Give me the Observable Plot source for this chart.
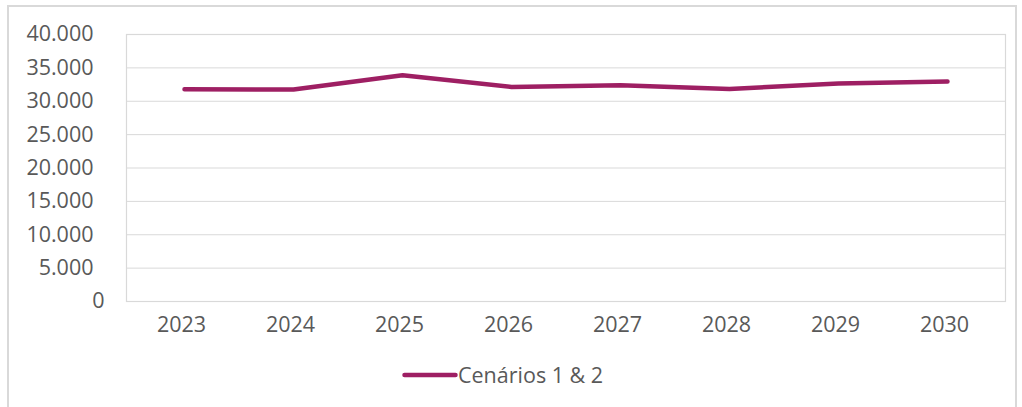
<!DOCTYPE html>
<html>
<head>
<meta charset="utf-8">
<script src="https://cdn.jsdelivr.net/npm/d3@7"></script>
<script src="https://cdn.jsdelivr.net/npm/@observablehq/plot@0.6"></script>
<style>
  html, body { margin: 0; padding: 0; background: #fff; }
  body { width: 1022px; height: 407px; position: relative; overflow: hidden; font-family: "Open Sans", sans-serif; }
  #frame { position: absolute; left: 7px; top: 5px; width: 1010px; height: 430px; border: 2px solid #d9d9d9; box-sizing: border-box; }
  #chart { position: absolute; left: 0; top: 0; }
  #legend { position: absolute; left: 402px; top: 360px; display: flex; align-items: center; color: #595959; font-size: 21.5px; }
  #legend svg { display: block; margin-right: 0px; }
</style>
</head>
<body>
<div id="frame"></div>
<div id="chart"></div>
<div id="legend"></div>
<script>
const years = ["2023", "2024", "2025", "2026", "2027", "2028", "2029", "2030"];
const values = [31800, 31750, 33900, 32150, 32400, 31850, 32650, 32950];
const seriesName = "Cenários 1 & 2";
const yTicks = [5000, 10000, 15000, 20000, 25000, 30000, 35000, 40000];
const zeroTick = [0];
const lineColor = "#9e1f63";

const data = years.map((y, i) => ({year: y, value: values[i]}));
const fmt = d => d3.format(",")(d).replace(/,/g, ".");

const chart = Plot.plot({
  width: 1022,
  height: 345,
  marginLeft: 126,
  marginRight: 17,
  marginTop: 34,
  marginBottom: 44,
  style: {fontFamily: "Open Sans, sans-serif", fontSize: "21.5px", color: "#595959", background: "transparent"},
  x: {type: "point", domain: years, padding: 0.5},
  y: {domain: [0, 40000]},
  marks: [
    Plot.gridY([...zeroTick, ...yTicks], {stroke: "#d9d9d9", strokeOpacity: 1, strokeWidth: 1}),
    Plot.frame({stroke: "#d9d9d9", strokeWidth: 1.2}),
    Plot.axisY(yTicks, {tickSize: 0, tickPadding: 33, tickFormat: fmt, label: null, fill: "#595959"}),
    Plot.axisY(zeroTick, {tickSize: 0, tickPadding: 22, tickFormat: fmt, label: null, fill: "#595959"}),
    Plot.axisX({tickSize: 0, tickPadding: 15, dx: -3, label: null, fill: "#595959"}),
    Plot.line(data, {x: "year", y: "value", stroke: lineColor, strokeWidth: 4.5, strokeLinecap: "round", strokeLinejoin: "round"})
  ]
});
document.getElementById("chart").appendChild(chart);

const legend = document.getElementById("legend");
const ns = "http://www.w3.org/2000/svg";
const sw = document.createElementNS(ns, "svg");
sw.setAttribute("width", "56");
sw.setAttribute("height", "10");
const ln = document.createElementNS(ns, "line");
ln.setAttribute("x1", "2.5"); ln.setAttribute("x2", "53.5");
ln.setAttribute("y1", "5"); ln.setAttribute("y2", "5");
ln.setAttribute("stroke", lineColor);
ln.setAttribute("stroke-width", "4.5");
ln.setAttribute("stroke-linecap", "round");
sw.appendChild(ln);
legend.appendChild(sw);
const span = document.createElement("span");
span.textContent = seriesName;
legend.appendChild(span);
</script>
</body>
</html>
